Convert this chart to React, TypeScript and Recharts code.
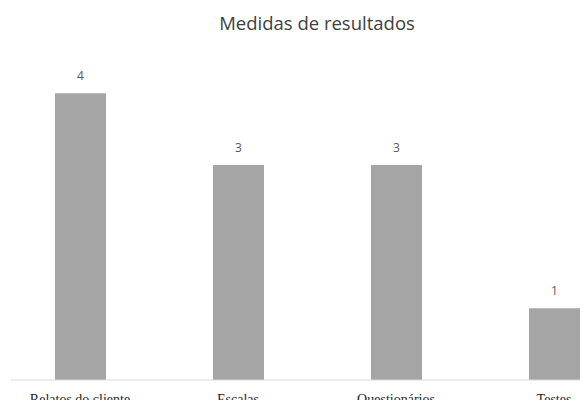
import { BarChart, Bar, XAxis, YAxis, LabelList } from 'recharts';

const categories = ['Relatos do cliente', 'Escalas', 'Questionários', 'Testes'];
const counts = [4, 3, 3, 1];

const title = 'Medidas de resultados';

const data = categories.map((name, i) => ({ name, value: counts[i] }));

const App = () => {
  return (
    <div style={{ position: 'relative', width: 588, height: 408, margin: -8, overflow: 'hidden', background: '#fff' }}>
      <div
        style={{
          position: 'absolute',
          top: 11,
          left: 0,
          width: 634,
          textAlign: 'center',
          fontFamily: '"Open Sans", sans-serif',
          fontSize: 18.5,
          lineHeight: '24px',
          color: '#404040',
        }}
      >
        {title}
      </div>
      <BarChart width={640} height={408} data={data} margin={{ top: 21.5, right: 7, bottom: 0, left: 11 }}>
        <XAxis
          dataKey="name"
          height={28}
          padding={{ left: -10, right: 0 }}
          axisLine={{ stroke: '#d9d9d9' }}
          tickLine={false}
          tickMargin={8}
          tick={{ fill: '#262626', fontSize: 14, fontFamily: '"Liberation Serif", serif' }}
          interval={0}
        />
        <YAxis hide domain={[0, 5]} />
        <Bar dataKey="value" fill="#a5a5a5" barSize={51} isAnimationActive={false}>
          <LabelList
            dataKey="value"
            position="top"
            offset={13}
            fill="#595959"
            fontSize={12}
            fontFamily='"Open Sans", sans-serif'
          />
        </Bar>
      </BarChart>
    </div>
  );
};

export default App;
